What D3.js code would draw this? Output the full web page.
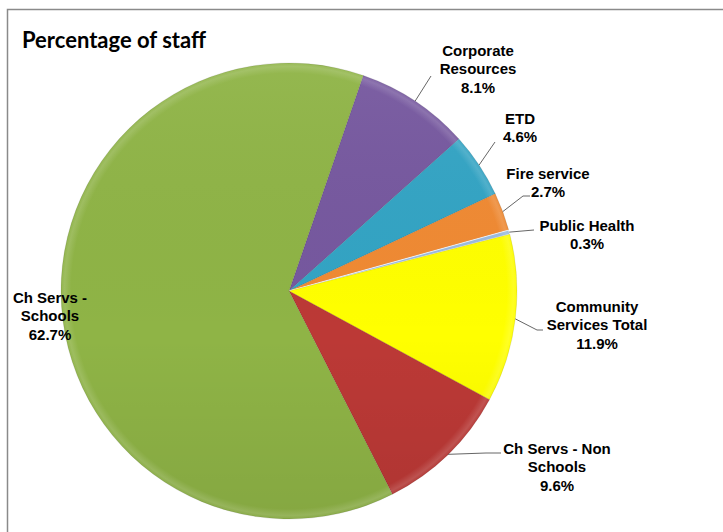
<!DOCTYPE html>
<html>
<head>
<meta charset="utf-8">
<script src="https://cdn.jsdelivr.net/npm/d3@7"></script>
<style>
  html, body { margin: 0; padding: 0; background: #ffffff; }
  svg { display: block; }
</style>
</head>
<body>
<svg id="chart" width="723" height="532"></svg>
<script>
// Staff share by service area (percent)
const categories = [
  "Corporate Resources",
  "ETD",
  "Fire service",
  "Public Health",
  "Community Services Total",
  "Ch Servs - Non Schools",
  "Ch Servs - Schools"
];
const values = [8.1, 4.6, 2.7, 0.3, 11.9, 9.6, 62.7];
const colors = ["#76589F", "#33A4C4", "#F08A33", "#9BBBE0", "#FFFF00", "#BC3936", "#8FB446"];

// Label text broken into lines, followed by the percentage line
const labelLines = [
  ["Corporate", "Resources"],
  ["ETD"],
  ["Fire service"],
  ["Public Health"],
  ["Community", "Services Total"],
  ["Ch Servs - Non", "Schools"],
  ["Ch Servs -", "Schools"]
];

// Label block placement: centre x, first baseline y, and leader end points
const labelLayout = [
  { x: 478, y: 56,  leader: [[431, 76]] },
  { x: 520, y: 124, leader: [[495, 142]] },
  { x: 548, y: 179, leader: [[523, 196], [530, 196]] },
  { x: 587, y: 231, leader: [[534, 230]] },
  { x: 597, y: 312, leader: [[537, 330], [543, 330]] },
  { x: 557, y: 454, leader: [[486, 453], [501, 453]] },
  { x: 50,  y: 303, leader: null }
];

const svg = d3.select("#chart");
const W = 723, H = 532;
const cx = 289, cy = 291, R = 228;
const startDeg = 19;

// Chart frame
svg.append("rect")
  .attr("x", 7.5).attr("y", 9.5)
  .attr("width", W).attr("height", H)
  .attr("fill", "#ffffff")
  .attr("stroke", "#8a8a8a")
  .attr("stroke-width", 1.5);

// Title
svg.append("text")
  .attr("x", 22).attr("y", 48)
  .attr("font-family", "Lato, 'Liberation Sans', sans-serif")
  .attr("font-weight", "bold")
  .attr("font-size", 22)
  .attr("fill", "#000")
  .text("Percentage of staff");

const defs = svg.append("defs");

// Rim highlight for the bevelled look
const rim = defs.append("radialGradient")
  .attr("id", "rim")
  .attr("gradientUnits", "userSpaceOnUse")
  .attr("cx", 0).attr("cy", 0).attr("r", R);
rim.append("stop").attr("offset", 0).attr("stop-color", "#fff").attr("stop-opacity", 0);
rim.append("stop").attr("offset", 0.955).attr("stop-color", "#fff").attr("stop-opacity", 0);
rim.append("stop").attr("offset", 0.985).attr("stop-color", "#fff").attr("stop-opacity", 0.14);
rim.append("stop").attr("offset", 1).attr("stop-color", "#fff").attr("stop-opacity", 0.04);

const shade = defs.append("linearGradient")
  .attr("id", "shade")
  .attr("gradientUnits", "userSpaceOnUse")
  .attr("x1", 0).attr("y1", -R).attr("x2", 0).attr("y2", R);
shade.append("stop").attr("offset", 0).attr("stop-color", "#fff").attr("stop-opacity", 0.05);
shade.append("stop").attr("offset", 0.6).attr("stop-color", "#000").attr("stop-opacity", 0);
shade.append("stop").attr("offset", 1).attr("stop-color", "#000").attr("stop-opacity", 0.07);

const pie = d3.pie()
  .sort(null)
  .value(d => d)
  .startAngle(startDeg * Math.PI / 180)
  .endAngle((startDeg + 360) * Math.PI / 180);

const arcs = pie(values);
const arc = d3.arc().innerRadius(0).outerRadius(R);

const g = svg.append("g").attr("transform", `translate(${cx},${cy})`);

g.selectAll("path.slice")
  .data(arcs)
  .join("path")
  .attr("class", "slice")
  .attr("d", arc)
  .attr("fill", (d, i) => colors[i])
  .attr("stroke", (d, i) => categories[i] === "Public Health" ? "#ffffff" : "rgba(0,0,0,0.12)")
  .attr("stroke-width", 0.8)
  .attr("stroke-linejoin", "round");

// Bevel overlays
g.append("circle").attr("r", R).attr("fill", "url(#shade)");
g.append("circle").attr("r", R).attr("fill", "url(#rim)");

// Leader lines from the slice edge at its mid-angle
const leaders = svg.append("g");
arcs.forEach((a, i) => {
  const lay = labelLayout[i];
  if (!lay.leader) return;
  const mid = (a.startAngle + a.endAngle) / 2;
  const p0 = [cx + R * Math.sin(mid), cy - R * Math.cos(mid)];
  const pts = [p0].concat(lay.leader);
  leaders.append("path")
    .attr("d", d3.line()(pts))
    .attr("fill", "none")
    .attr("stroke", "#555")
    .attr("stroke-width", 0.9);
});

// Data labels
const labels = svg.append("g")
  .attr("font-family", "'Liberation Sans', Arial, sans-serif")
  .attr("font-weight", "bold")
  .attr("font-size", 15)
  .attr("fill", "#000")
  .attr("text-anchor", "middle");

arcs.forEach((a, i) => {
  const lay = labelLayout[i];
  const lines = labelLines[i].concat([values[i].toFixed(1) + "%"]);
  const t = labels.append("text").attr("x", lay.x).attr("y", lay.y);
  lines.forEach((ln, k) => {
    t.append("tspan")
      .attr("x", lay.x)
      .attr("dy", k === 0 ? 0 : 18.4)
      .text(ln);
  });
});
</script>
</body>
</html>
